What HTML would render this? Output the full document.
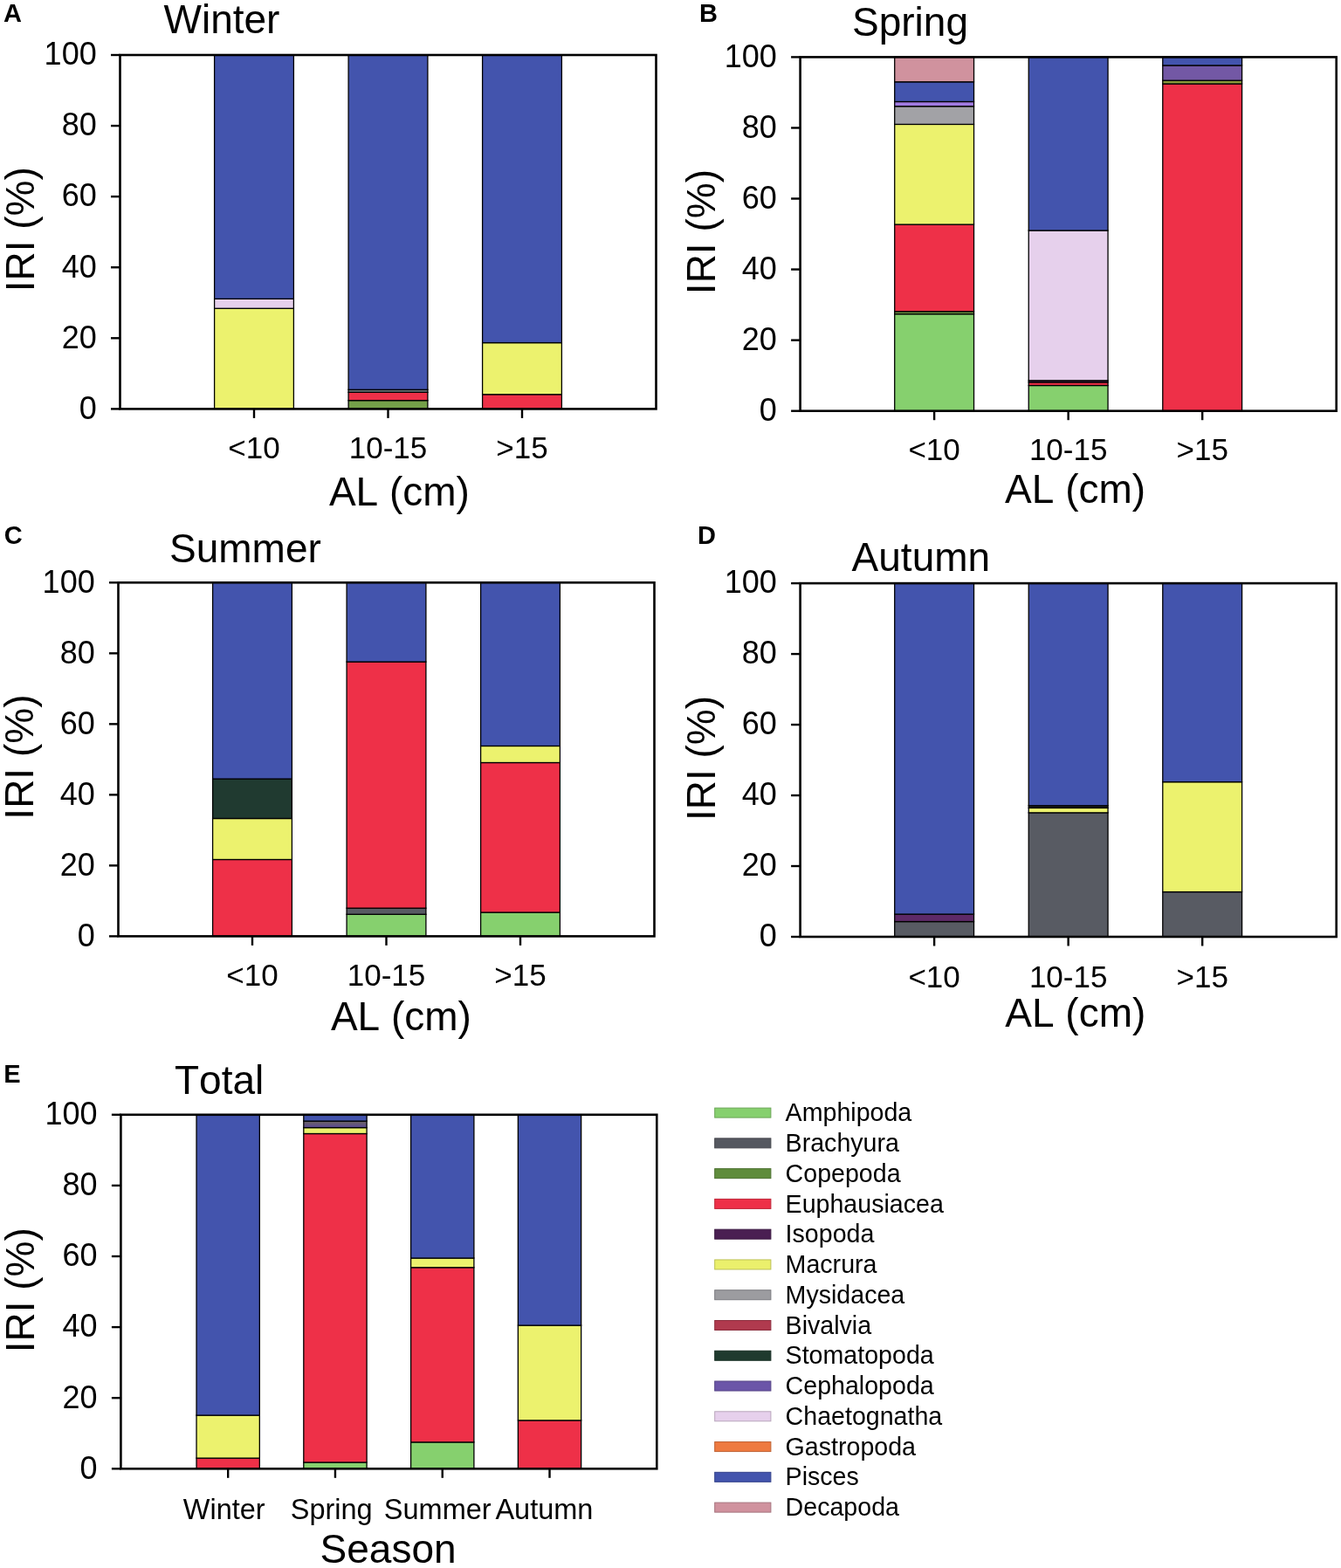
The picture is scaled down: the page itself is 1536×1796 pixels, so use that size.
<!DOCTYPE html>
<html><head><meta charset="utf-8"><title>IRI figure</title>
<style>
html,body{margin:0;padding:0;background:#fff;}
body{width:1536px;height:1796px;overflow:hidden;}
svg{display:block;font-kerning:none;font-family:"Liberation Sans",Arial,Helvetica,sans-serif;fill:#000;}
svg text{fill:#000;}
</style></head><body>
<svg width="1536" height="1796" viewBox="0 0 1536 1796">
<rect width="1536" height="1796" fill="#fff"/>
<defs><linearGradient id="gspr" x1="0" y1="0" x2="0" y2="1"><stop offset="0" stop-color="#6e6660"/><stop offset="1" stop-color="#5a4896"/></linearGradient></defs>
<rect x="245.60" y="353.27" width="90.80" height="115.13" fill="#ecf26e" stroke="#000" stroke-width="1.3"/>
<rect x="245.60" y="342.32" width="90.80" height="10.95" fill="#e6d0ec" stroke="#000" stroke-width="1.3"/>
<rect x="245.60" y="63.00" width="90.80" height="279.32" fill="#4354ad" stroke="#000" stroke-width="1.3"/>
<rect x="399.10" y="458.67" width="90.80" height="9.73" fill="#74a049" stroke="#000" stroke-width="1.3"/>
<rect x="399.10" y="449.35" width="90.80" height="9.32" fill="#ee3048" stroke="#000" stroke-width="1.3"/>
<rect x="399.10" y="446.31" width="90.80" height="3.04" fill="#6a7278" stroke="#000" stroke-width="1.3"/>
<rect x="399.10" y="63.00" width="90.80" height="383.31" fill="#4354ad" stroke="#000" stroke-width="1.3"/>
<rect x="552.60" y="451.78" width="90.80" height="16.62" fill="#ee3048" stroke="#000" stroke-width="1.3"/>
<rect x="552.60" y="392.59" width="90.80" height="59.19" fill="#ecf26e" stroke="#000" stroke-width="1.3"/>
<rect x="552.60" y="63.00" width="90.80" height="329.59" fill="#4354ad" stroke="#000" stroke-width="1.3"/>
<rect x="137.50" y="63.00" width="614.00" height="405.40" fill="none" stroke="#000" stroke-width="2.6"/>
<line x1="127.00" y1="468.40" x2="137.50" y2="468.40" stroke="#000" stroke-width="2.4"/>
<text x="110.70" y="479.70" font-size="36" text-anchor="end">0</text>
<line x1="127.00" y1="387.32" x2="137.50" y2="387.32" stroke="#000" stroke-width="2.4"/>
<text x="110.70" y="398.62" font-size="36" text-anchor="end">20</text>
<line x1="127.00" y1="306.24" x2="137.50" y2="306.24" stroke="#000" stroke-width="2.4"/>
<text x="110.70" y="317.54" font-size="36" text-anchor="end">40</text>
<line x1="127.00" y1="225.16" x2="137.50" y2="225.16" stroke="#000" stroke-width="2.4"/>
<text x="110.70" y="236.46" font-size="36" text-anchor="end">60</text>
<line x1="127.00" y1="144.08" x2="137.50" y2="144.08" stroke="#000" stroke-width="2.4"/>
<text x="110.70" y="155.38" font-size="36" text-anchor="end">80</text>
<line x1="127.00" y1="63.00" x2="137.50" y2="63.00" stroke="#000" stroke-width="2.4"/>
<text x="110.70" y="74.30" font-size="36" text-anchor="end">100</text>
<line x1="291.00" y1="468.40" x2="291.00" y2="478.90" stroke="#000" stroke-width="2.4"/>
<text x="291.00" y="525.10" font-size="35" text-anchor="middle">&lt;10</text>
<line x1="444.50" y1="468.40" x2="444.50" y2="478.90" stroke="#000" stroke-width="2.4"/>
<text x="444.50" y="525.10" font-size="35" text-anchor="middle">10-15</text>
<line x1="598.00" y1="468.40" x2="598.00" y2="478.90" stroke="#000" stroke-width="2.4"/>
<text x="598.00" y="525.10" font-size="35" text-anchor="middle">&gt;15</text>
<text x="4.00" y="25.10" font-size="29" font-weight="bold">A</text>
<text x="187.50" y="37.90" font-size="46">Winter</text>
<text transform="translate(39.30,262.80) rotate(-90)" x="0" y="0" font-size="46" text-anchor="middle">IRI (%)</text>
<text x="376.90" y="579.20" font-size="46">AL (cm)</text>
<rect x="1024.72" y="359.65" width="90.80" height="111.05" fill="#86d06e" stroke="#000" stroke-width="1.3"/>
<rect x="1024.72" y="356.81" width="90.80" height="2.84" fill="#74a049" stroke="#000" stroke-width="1.3"/>
<rect x="1024.72" y="257.11" width="90.80" height="99.70" fill="#ee3048" stroke="#000" stroke-width="1.3"/>
<rect x="1024.72" y="142.41" width="90.80" height="114.70" fill="#ecf26e" stroke="#000" stroke-width="1.3"/>
<rect x="1024.72" y="121.74" width="90.80" height="20.67" fill="#a2a2a6" stroke="#000" stroke-width="1.3"/>
<rect x="1024.72" y="116.47" width="90.80" height="5.27" fill="#a07ae0" stroke="#000" stroke-width="1.3"/>
<rect x="1024.72" y="93.77" width="90.80" height="22.70" fill="#4354ad" stroke="#000" stroke-width="1.3"/>
<rect x="1024.72" y="65.40" width="90.80" height="28.37" fill="#d0929e" stroke="#000" stroke-width="1.3"/>
<rect x="1178.25" y="441.52" width="90.80" height="29.18" fill="#86d06e" stroke="#000" stroke-width="1.3"/>
<rect x="1178.25" y="437.87" width="90.80" height="3.65" fill="#ee3048" stroke="#000" stroke-width="1.3"/>
<rect x="1178.25" y="435.84" width="90.80" height="2.03" fill="#5e2a68" stroke="#000" stroke-width="1.3"/>
<rect x="1178.25" y="264.00" width="90.80" height="171.85" fill="#e6d0ec" stroke="#000" stroke-width="1.3"/>
<rect x="1178.25" y="65.40" width="90.80" height="198.60" fill="#4354ad" stroke="#000" stroke-width="1.3"/>
<rect x="1331.78" y="96.00" width="90.80" height="374.70" fill="#ee3048" stroke="#000" stroke-width="1.3"/>
<rect x="1331.78" y="92.15" width="90.80" height="3.85" fill="#8a9a3a" stroke="#000" stroke-width="1.3"/>
<rect x="1331.78" y="74.92" width="90.80" height="17.23" fill="#7358a5" stroke="#000" stroke-width="1.3"/>
<rect x="1331.78" y="65.40" width="90.80" height="9.52" fill="#4354ad" stroke="#000" stroke-width="1.3"/>
<rect x="916.60" y="65.40" width="614.10" height="405.30" fill="none" stroke="#000" stroke-width="2.6"/>
<line x1="906.10" y1="470.70" x2="916.60" y2="470.70" stroke="#000" stroke-width="2.4"/>
<text x="889.80" y="482.00" font-size="36" text-anchor="end">0</text>
<line x1="906.10" y1="389.64" x2="916.60" y2="389.64" stroke="#000" stroke-width="2.4"/>
<text x="889.80" y="400.94" font-size="36" text-anchor="end">20</text>
<line x1="906.10" y1="308.58" x2="916.60" y2="308.58" stroke="#000" stroke-width="2.4"/>
<text x="889.80" y="319.88" font-size="36" text-anchor="end">40</text>
<line x1="906.10" y1="227.52" x2="916.60" y2="227.52" stroke="#000" stroke-width="2.4"/>
<text x="889.80" y="238.82" font-size="36" text-anchor="end">60</text>
<line x1="906.10" y1="146.46" x2="916.60" y2="146.46" stroke="#000" stroke-width="2.4"/>
<text x="889.80" y="157.76" font-size="36" text-anchor="end">80</text>
<line x1="906.10" y1="65.40" x2="916.60" y2="65.40" stroke="#000" stroke-width="2.4"/>
<text x="889.80" y="76.70" font-size="36" text-anchor="end">100</text>
<line x1="1070.12" y1="470.70" x2="1070.12" y2="481.20" stroke="#000" stroke-width="2.4"/>
<text x="1070.12" y="526.90" font-size="35" text-anchor="middle">&lt;10</text>
<line x1="1223.65" y1="470.70" x2="1223.65" y2="481.20" stroke="#000" stroke-width="2.4"/>
<text x="1223.65" y="526.90" font-size="35" text-anchor="middle">10-15</text>
<line x1="1377.18" y1="470.70" x2="1377.18" y2="481.20" stroke="#000" stroke-width="2.4"/>
<text x="1377.18" y="526.90" font-size="35" text-anchor="middle">&gt;15</text>
<text x="801.00" y="25.30" font-size="29" font-weight="bold">B</text>
<text x="976.00" y="41.00" font-size="46">Spring</text>
<text transform="translate(819.00,265.60) rotate(-90)" x="0" y="0" font-size="46" text-anchor="middle">IRI (%)</text>
<text x="1151.10" y="575.60" font-size="46">AL (cm)</text>
<rect x="243.60" y="984.49" width="90.80" height="87.91" fill="#ee3048" stroke="#000" stroke-width="1.3"/>
<rect x="243.60" y="937.50" width="90.80" height="46.99" fill="#ecf26e" stroke="#000" stroke-width="1.3"/>
<rect x="243.60" y="892.13" width="90.80" height="45.37" fill="#203a30" stroke="#000" stroke-width="1.3"/>
<rect x="243.60" y="667.30" width="90.80" height="224.83" fill="#4354ad" stroke="#000" stroke-width="1.3"/>
<rect x="397.10" y="1047.28" width="90.80" height="25.12" fill="#86d06e" stroke="#000" stroke-width="1.3"/>
<rect x="397.10" y="1040.19" width="90.80" height="7.09" fill="#585b63" stroke="#000" stroke-width="1.3"/>
<rect x="397.10" y="758.04" width="90.80" height="282.15" fill="#ee3048" stroke="#000" stroke-width="1.3"/>
<rect x="397.10" y="667.30" width="90.80" height="90.74" fill="#4354ad" stroke="#000" stroke-width="1.3"/>
<rect x="550.60" y="1045.06" width="90.80" height="27.34" fill="#86d06e" stroke="#000" stroke-width="1.3"/>
<rect x="550.60" y="873.50" width="90.80" height="171.56" fill="#ee3048" stroke="#000" stroke-width="1.3"/>
<rect x="550.60" y="854.46" width="90.80" height="19.04" fill="#ecf26e" stroke="#000" stroke-width="1.3"/>
<rect x="550.60" y="667.30" width="90.80" height="187.16" fill="#4354ad" stroke="#000" stroke-width="1.3"/>
<rect x="135.50" y="667.30" width="614.00" height="405.10" fill="none" stroke="#000" stroke-width="2.6"/>
<line x1="125.00" y1="1072.40" x2="135.50" y2="1072.40" stroke="#000" stroke-width="2.4"/>
<text x="108.70" y="1083.70" font-size="36" text-anchor="end">0</text>
<line x1="125.00" y1="991.38" x2="135.50" y2="991.38" stroke="#000" stroke-width="2.4"/>
<text x="108.70" y="1002.68" font-size="36" text-anchor="end">20</text>
<line x1="125.00" y1="910.36" x2="135.50" y2="910.36" stroke="#000" stroke-width="2.4"/>
<text x="108.70" y="921.66" font-size="36" text-anchor="end">40</text>
<line x1="125.00" y1="829.34" x2="135.50" y2="829.34" stroke="#000" stroke-width="2.4"/>
<text x="108.70" y="840.64" font-size="36" text-anchor="end">60</text>
<line x1="125.00" y1="748.32" x2="135.50" y2="748.32" stroke="#000" stroke-width="2.4"/>
<text x="108.70" y="759.62" font-size="36" text-anchor="end">80</text>
<line x1="125.00" y1="667.30" x2="135.50" y2="667.30" stroke="#000" stroke-width="2.4"/>
<text x="108.70" y="678.60" font-size="36" text-anchor="end">100</text>
<line x1="289.00" y1="1072.40" x2="289.00" y2="1082.90" stroke="#000" stroke-width="2.4"/>
<text x="289.00" y="1129.10" font-size="35" text-anchor="middle">&lt;10</text>
<line x1="442.50" y1="1072.40" x2="442.50" y2="1082.90" stroke="#000" stroke-width="2.4"/>
<text x="442.50" y="1129.10" font-size="35" text-anchor="middle">10-15</text>
<line x1="596.00" y1="1072.40" x2="596.00" y2="1082.90" stroke="#000" stroke-width="2.4"/>
<text x="596.00" y="1129.10" font-size="35" text-anchor="middle">&gt;15</text>
<text x="4.70" y="623.20" font-size="29" font-weight="bold">C</text>
<text x="194.00" y="644.40" font-size="46">Summer</text>
<text transform="translate(37.80,867.10) rotate(-90)" x="0" y="0" font-size="46" text-anchor="middle">IRI (%)</text>
<text x="378.90" y="1179.70" font-size="46">AL (cm)</text>
<rect x="1024.72" y="1055.59" width="90.80" height="17.41" fill="#585b63" stroke="#000" stroke-width="1.3"/>
<rect x="1024.72" y="1047.09" width="90.80" height="8.50" fill="#5e2a68" stroke="#000" stroke-width="1.3"/>
<rect x="1024.72" y="668.10" width="90.80" height="378.99" fill="#4354ad" stroke="#000" stroke-width="1.3"/>
<rect x="1178.25" y="930.88" width="90.80" height="142.12" fill="#585b63" stroke="#000" stroke-width="1.3"/>
<rect x="1178.25" y="925.41" width="90.80" height="5.47" fill="#ecf26e" stroke="#000" stroke-width="1.3"/>
<rect x="1178.25" y="922.78" width="90.80" height="2.63" fill="#20222a" stroke="#000" stroke-width="1.3"/>
<rect x="1178.25" y="668.10" width="90.80" height="254.68" fill="#4354ad" stroke="#000" stroke-width="1.3"/>
<rect x="1331.78" y="1021.58" width="90.80" height="51.42" fill="#585b63" stroke="#000" stroke-width="1.3"/>
<rect x="1331.78" y="895.65" width="90.80" height="125.92" fill="#ecf26e" stroke="#000" stroke-width="1.3"/>
<rect x="1331.78" y="668.10" width="90.80" height="227.55" fill="#4354ad" stroke="#000" stroke-width="1.3"/>
<rect x="916.60" y="668.10" width="614.10" height="404.90" fill="none" stroke="#000" stroke-width="2.6"/>
<line x1="906.10" y1="1073.00" x2="916.60" y2="1073.00" stroke="#000" stroke-width="2.4"/>
<text x="889.80" y="1084.30" font-size="36" text-anchor="end">0</text>
<line x1="906.10" y1="992.02" x2="916.60" y2="992.02" stroke="#000" stroke-width="2.4"/>
<text x="889.80" y="1003.32" font-size="36" text-anchor="end">20</text>
<line x1="906.10" y1="911.04" x2="916.60" y2="911.04" stroke="#000" stroke-width="2.4"/>
<text x="889.80" y="922.34" font-size="36" text-anchor="end">40</text>
<line x1="906.10" y1="830.06" x2="916.60" y2="830.06" stroke="#000" stroke-width="2.4"/>
<text x="889.80" y="841.36" font-size="36" text-anchor="end">60</text>
<line x1="906.10" y1="749.08" x2="916.60" y2="749.08" stroke="#000" stroke-width="2.4"/>
<text x="889.80" y="760.38" font-size="36" text-anchor="end">80</text>
<line x1="906.10" y1="668.10" x2="916.60" y2="668.10" stroke="#000" stroke-width="2.4"/>
<text x="889.80" y="679.40" font-size="36" text-anchor="end">100</text>
<line x1="1070.12" y1="1073.00" x2="1070.12" y2="1083.50" stroke="#000" stroke-width="2.4"/>
<text x="1070.12" y="1131.00" font-size="35" text-anchor="middle">&lt;10</text>
<line x1="1223.65" y1="1073.00" x2="1223.65" y2="1083.50" stroke="#000" stroke-width="2.4"/>
<text x="1223.65" y="1131.00" font-size="35" text-anchor="middle">10-15</text>
<line x1="1377.18" y1="1073.00" x2="1377.18" y2="1083.50" stroke="#000" stroke-width="2.4"/>
<text x="1377.18" y="1131.00" font-size="35" text-anchor="middle">&gt;15</text>
<text x="799.00" y="623.00" font-size="29" font-weight="bold">D</text>
<text x="975.60" y="653.60" font-size="46">Autumn</text>
<text transform="translate(819.00,868.50) rotate(-90)" x="0" y="0" font-size="46" text-anchor="middle">IRI (%)</text>
<text x="1151.30" y="1176.10" font-size="46">AL (cm)</text>
<rect x="225.03" y="1670.13" width="72.30" height="12.16" fill="#ee3048" stroke="#000" stroke-width="1.3"/>
<rect x="225.03" y="1621.07" width="72.30" height="49.07" fill="#ecf26e" stroke="#000" stroke-width="1.3"/>
<rect x="225.03" y="1276.80" width="72.30" height="344.27" fill="#4354ad" stroke="#000" stroke-width="1.3"/>
<rect x="347.81" y="1675.00" width="72.30" height="7.30" fill="#86d06e" stroke="#000" stroke-width="1.3"/>
<rect x="347.81" y="1298.49" width="72.30" height="376.51" fill="#ee3048" stroke="#000" stroke-width="1.3"/>
<rect x="347.81" y="1291.60" width="72.30" height="6.89" fill="#ecf26e" stroke="#000" stroke-width="1.3"/>
<rect x="347.81" y="1284.10" width="72.30" height="7.50" fill="url(#gspr)" stroke="#000" stroke-width="1.3"/>
<rect x="347.81" y="1276.80" width="72.30" height="7.30" fill="#4354ad" stroke="#000" stroke-width="1.3"/>
<rect x="470.59" y="1651.89" width="72.30" height="30.41" fill="#86d06e" stroke="#000" stroke-width="1.3"/>
<rect x="470.59" y="1451.77" width="72.30" height="200.11" fill="#ee3048" stroke="#000" stroke-width="1.3"/>
<rect x="470.59" y="1441.03" width="72.30" height="10.75" fill="#ecf26e" stroke="#000" stroke-width="1.3"/>
<rect x="470.59" y="1276.80" width="72.30" height="164.23" fill="#4354ad" stroke="#000" stroke-width="1.3"/>
<rect x="593.37" y="1626.91" width="72.30" height="55.39" fill="#ee3048" stroke="#000" stroke-width="1.3"/>
<rect x="593.37" y="1518.07" width="72.30" height="108.84" fill="#ecf26e" stroke="#000" stroke-width="1.3"/>
<rect x="593.37" y="1276.80" width="72.30" height="241.27" fill="#4354ad" stroke="#000" stroke-width="1.3"/>
<rect x="138.40" y="1276.80" width="613.90" height="405.50" fill="none" stroke="#000" stroke-width="2.6"/>
<line x1="127.90" y1="1682.30" x2="138.40" y2="1682.30" stroke="#000" stroke-width="2.4"/>
<text x="111.60" y="1693.60" font-size="36" text-anchor="end">0</text>
<line x1="127.90" y1="1601.20" x2="138.40" y2="1601.20" stroke="#000" stroke-width="2.4"/>
<text x="111.60" y="1612.50" font-size="36" text-anchor="end">20</text>
<line x1="127.90" y1="1520.10" x2="138.40" y2="1520.10" stroke="#000" stroke-width="2.4"/>
<text x="111.60" y="1531.40" font-size="36" text-anchor="end">40</text>
<line x1="127.90" y1="1439.00" x2="138.40" y2="1439.00" stroke="#000" stroke-width="2.4"/>
<text x="111.60" y="1450.30" font-size="36" text-anchor="end">60</text>
<line x1="127.90" y1="1357.90" x2="138.40" y2="1357.90" stroke="#000" stroke-width="2.4"/>
<text x="111.60" y="1369.20" font-size="36" text-anchor="end">80</text>
<line x1="127.90" y1="1276.80" x2="138.40" y2="1276.80" stroke="#000" stroke-width="2.4"/>
<text x="111.60" y="1288.10" font-size="36" text-anchor="end">100</text>
<line x1="261.18" y1="1682.30" x2="261.18" y2="1692.80" stroke="#000" stroke-width="2.4"/>
<text x="256.75" y="1739.90" font-size="32.5" text-anchor="middle">Winter</text>
<line x1="383.96" y1="1682.30" x2="383.96" y2="1692.80" stroke="#000" stroke-width="2.4"/>
<text x="379.70" y="1739.90" font-size="32.5" text-anchor="middle">Spring</text>
<line x1="506.74" y1="1682.30" x2="506.74" y2="1692.80" stroke="#000" stroke-width="2.4"/>
<text x="501.25" y="1739.90" font-size="32.5" text-anchor="middle">Summer</text>
<line x1="629.52" y1="1682.30" x2="629.52" y2="1692.80" stroke="#000" stroke-width="2.4"/>
<text x="623.40" y="1739.90" font-size="32.5" text-anchor="middle">Autumn</text>
<text x="4.20" y="1239.70" font-size="29" font-weight="bold">E</text>
<text x="200.00" y="1252.50" font-size="46">Total</text>
<text transform="translate(39.30,1477.80) rotate(-90)" x="0" y="0" font-size="46" text-anchor="middle">IRI (%)</text>
<text x="366.60" y="1790.30" font-size="46">Season</text>
<rect x="818.7" y="1269.10" width="64.2" height="11" fill="#86d06e" stroke="#6ba658" stroke-width="1"/>
<text x="899.6" y="1284.20" font-size="28.6">Amphipoda</text>
<rect x="818.7" y="1303.87" width="64.2" height="11" fill="#555860" stroke="#44464c" stroke-width="1"/>
<text x="899.6" y="1318.97" font-size="28.6">Brachyura</text>
<rect x="818.7" y="1338.64" width="64.2" height="11" fill="#5f8c3c" stroke="#4c7030" stroke-width="1"/>
<text x="899.6" y="1353.74" font-size="28.6">Copepoda</text>
<rect x="818.7" y="1373.41" width="64.2" height="11" fill="#ee3048" stroke="#be2639" stroke-width="1"/>
<text x="899.6" y="1388.51" font-size="28.6">Euphausiacea</text>
<rect x="818.7" y="1408.18" width="64.2" height="11" fill="#4a1f52" stroke="#3b1841" stroke-width="1"/>
<text x="899.6" y="1423.28" font-size="28.6">Isopoda</text>
<rect x="818.7" y="1442.95" width="64.2" height="11" fill="#ebf06c" stroke="#bcc056" stroke-width="1"/>
<text x="899.6" y="1458.05" font-size="28.6">Macrura</text>
<rect x="818.7" y="1477.72" width="64.2" height="11" fill="#9c9ca0" stroke="#7c7c80" stroke-width="1"/>
<text x="899.6" y="1492.82" font-size="28.6">Mysidacea</text>
<rect x="818.7" y="1512.49" width="64.2" height="11" fill="#b03a4e" stroke="#8c2e3e" stroke-width="1"/>
<text x="899.6" y="1527.59" font-size="28.6">Bivalvia</text>
<rect x="818.7" y="1547.26" width="64.2" height="11" fill="#1f3a2e" stroke="#182e24" stroke-width="1"/>
<text x="899.6" y="1562.36" font-size="28.6">Stomatopoda</text>
<rect x="818.7" y="1582.03" width="64.2" height="11" fill="#6b55a8" stroke="#554486" stroke-width="1"/>
<text x="899.6" y="1597.13" font-size="28.6">Cephalopoda</text>
<rect x="818.7" y="1616.80" width="64.2" height="11" fill="#e6d0ec" stroke="#b8a6bc" stroke-width="1"/>
<text x="899.6" y="1631.90" font-size="28.6">Chaetognatha</text>
<rect x="818.7" y="1651.57" width="64.2" height="11" fill="#ee7a40" stroke="#be6133" stroke-width="1"/>
<text x="899.6" y="1666.67" font-size="28.6">Gastropoda</text>
<rect x="818.7" y="1686.34" width="64.2" height="11" fill="#4354ad" stroke="#35438a" stroke-width="1"/>
<text x="899.6" y="1701.44" font-size="28.6">Pisces</text>
<rect x="818.7" y="1721.11" width="64.2" height="11" fill="#d0929e" stroke="#a6747e" stroke-width="1"/>
<text x="899.6" y="1736.21" font-size="28.6">Decapoda</text>
</svg>
</body></html>
